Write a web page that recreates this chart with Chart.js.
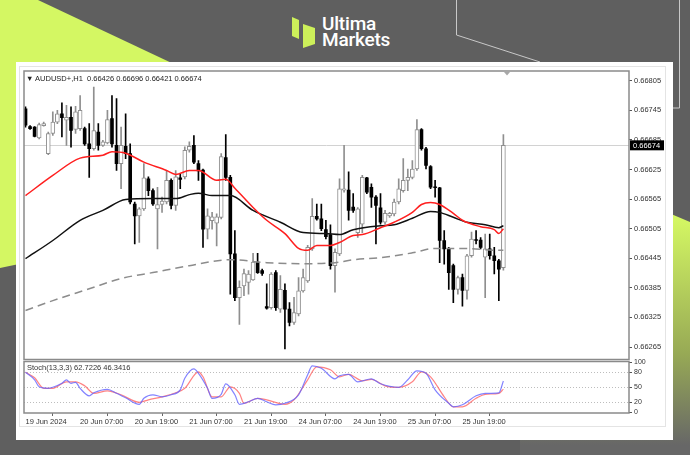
<!DOCTYPE html>
<html><head><meta charset="utf-8">
<script src="https://cdn.jsdelivr.net/npm/chart.js@4.4.1/dist/chart.umd.min.js"></script>
<style>
html,body{margin:0;padding:0;}
body{width:690px;height:455px;overflow:hidden;position:relative;background:#5f5f5f;font-family:"Liberation Sans",Arial,sans-serif;}
.abs{position:absolute;}
#panel{left:16px;top:62px;width:657px;height:378px;background:#fff;}
#frame{left:19px;top:66px;width:645px;height:359px;border:1px solid #e4e4e4;}
#c{left:0;top:0;}
#hdr{left:26px;top:74px;font-size:7.5px;color:#222;white-space:pre;line-height:9px;}
#sto{left:27px;top:363px;font-size:7.5px;color:#333;white-space:pre;line-height:9px;}
.logo{left:322px;color:#fff;font-family:Roboto,sans-serif;font-weight:500;font-size:19px;line-height:19px;letter-spacing:-0.2px;}
</style></head>
<body>
<svg class="abs" style="left:0;top:0" width="690" height="455">
 <defs><linearGradient id="g" x1="0" y1="218" x2="0" y2="445" gradientUnits="userSpaceOnUse">
 <stop offset="0" stop-color="#d4f763"/><stop offset="0.6" stop-color="#97a955"/><stop offset="1" stop-color="#676767"/></linearGradient></defs>
 <polygon points="0,0 38,0 420,180 0,268" fill="#d4f763"/>
 <polygon points="520,150 690,222 690,455 520,455" fill="url(#g)"/>
 <polyline points="456.5,0 456.5,35 540,62" fill="none" stroke="#c8c8c8" stroke-width="1"/>
 <polyline points="679.5,0 679.5,108 673,108" fill="none" stroke="#c8c8c8" stroke-width="1"/>
 <polygon points="292,17 299,20 299,39 292,36" fill="#cdf05a"/>
 <polygon points="303,24 315,28 315,44 303,48" fill="#cdf05a"/>
</svg>
<div id="panel" class="abs"></div>
<div id="frame" class="abs"></div>
<div class="abs logo" style="top:14px">Ultima</div>
<div class="abs logo" style="top:30px">Markets</div>
<canvas id="c" class="abs" width="690" height="455"></canvas>
<div id="hdr" class="abs"></div>
<div id="sto" class="abs">Stoch(13,3,3) 62.7226 46.3416</div>
<script>
const symbol = 'AUDUSD+,H1';
const opens = [0.66748,0.66712,0.66711,0.66689,0.66714,0.66657,0.66698,0.66721,0.66738,0.66725,
0.66731,0.66706,0.66708,0.66708,0.66677,0.66667,0.66701,0.66674,0.66679,0.66728,
0.66674,0.66637,0.66672,0.66657,0.66555,0.66531,0.66545,0.66606,0.66582,0.66545,
0.66554,0.66559,0.66603,0.66552,0.66608,0.66610,0.66664,0.66674,0.66637,0.66624,
0.66504,0.66521,0.66516,0.66528,0.66649,0.66609,0.66454,0.66365,0.66389,0.66396,
0.66401,0.66437,0.66420,0.66347,0.66345,0.66416,0.66342,0.66380,0.66342,0.66315,
0.66332,0.66379,0.66399,0.66464,0.66530,0.66525,0.66503,0.66493,0.66430,0.66454,
0.66583,0.66583,0.66549,0.66497,0.66514,0.66608,0.66589,0.66569,0.66547,0.66518,
0.66531,0.66535,0.66559,0.66582,0.66603,0.66609,0.66626,0.66706,0.66667,0.66631,
0.66590,0.66588,0.66481,0.66464,0.66430,0.66382,0.66406,0.66380,0.66450,0.66483,
0.66482,0.66447,0.66464,0.66450,0.66440,0.66426];
const highs = [0.66752,0.66714,0.66712,0.66719,0.66721,0.66701,0.66742,0.66745,0.66760,0.66755,
0.66752,0.66753,0.66775,0.66711,0.66718,0.66792,0.66718,0.66684,0.66745,0.66775,
0.66769,0.66711,0.66738,0.66677,0.66559,0.66548,0.66637,0.66610,0.66586,0.66589,
0.66569,0.66623,0.66606,0.66623,0.66616,0.66671,0.66681,0.66694,0.66643,0.66626,
0.66545,0.66538,0.66535,0.66657,0.66696,0.66613,0.66501,0.66399,0.66423,0.66420,
0.66455,0.66455,0.66423,0.66393,0.66416,0.66420,0.66410,0.66393,0.66355,0.66366,
0.66406,0.66423,0.66471,0.66566,0.66555,0.66555,0.66522,0.66513,0.66464,0.66606,
0.66674,0.66620,0.66576,0.66548,0.66613,0.66609,0.66596,0.66572,0.66576,0.66542,
0.66538,0.66565,0.66606,0.66647,0.66626,0.66643,0.66726,0.66708,0.66670,0.66633,
0.66603,0.66589,0.66501,0.66467,0.66433,0.66409,0.66413,0.66453,0.66498,0.66501,
0.66487,0.66494,0.66494,0.66467,0.66443,0.66696];
const lows = [0.66711,0.66706,0.66691,0.66687,0.66713,0.66655,0.66694,0.66718,0.66691,0.66674,
0.66670,0.66698,0.66704,0.66674,0.66609,0.66664,0.66664,0.66672,0.66677,0.66670,
0.66623,0.66586,0.66647,0.66555,0.66474,0.66477,0.66542,0.66572,0.66552,0.66464,
0.66538,0.66555,0.66545,0.66542,0.66586,0.66606,0.66660,0.66637,0.66603,0.66467,
0.66484,0.66504,0.66470,0.66525,0.66603,0.66372,0.66359,0.66311,0.66369,0.66372,
0.66400,0.66414,0.66410,0.66342,0.66342,0.66339,0.66335,0.66261,0.66308,0.66311,
0.66328,0.66376,0.66396,0.66461,0.66522,0.66501,0.66484,0.66423,0.66376,0.66450,
0.66579,0.66522,0.66538,0.66487,0.66497,0.66576,0.66548,0.66474,0.66514,0.66514,
0.66528,0.66531,0.66555,0.66579,0.66582,0.66606,0.66623,0.66664,0.66626,0.66586,
0.66569,0.66436,0.66433,0.66382,0.66355,0.66372,0.66348,0.66362,0.66447,0.66474,
0.66464,0.66365,0.66443,0.66413,0.66359,0.66421];
const closes = [0.66715,0.66708,0.66692,0.66716,0.66718,0.66698,0.66721,0.66738,0.66730,0.66731,
0.66704,0.66742,0.66745,0.66677,0.66667,0.66704,0.66674,0.66681,0.66726,0.66677,
0.66637,0.66674,0.66657,0.66559,0.66531,0.66545,0.66608,0.66582,0.66555,0.66554,
0.66561,0.66603,0.66552,0.66610,0.66605,0.66664,0.66672,0.66640,0.66622,0.66504,
0.66531,0.66529,0.66529,0.66651,0.66609,0.66454,0.66365,0.66386,0.66414,0.66413,
0.66437,0.66416,0.66414,0.66344,0.66413,0.66345,0.66382,0.66342,0.66315,0.66335,
0.66379,0.66406,0.66467,0.66530,0.66525,0.66505,0.66489,0.66430,0.66457,0.66586,
0.66586,0.66542,0.66542,0.66545,0.66609,0.66579,0.66569,0.66552,0.66518,0.66536,
0.66536,0.66559,0.66586,0.66603,0.66609,0.66626,0.66706,0.66667,0.66633,0.66589,
0.66588,0.66481,0.66464,0.66416,0.66382,0.66406,0.66380,0.66450,0.66484,0.66481,
0.66467,0.66464,0.66450,0.66440,0.66423,0.66674];

const timeTickIdx = [0,12,24,36,48,60,72,84,96];
const timeTickLabels = ['19 Jun 2024','20 Jun 07:00','20 Jun 19:00','21 Jun 07:00','21 Jun 19:00','24 Jun 07:00','24 Jun 19:00','25 Jun 07:00','25 Jun 19:00'];
const priceTicks = [0.66805,0.66745,0.66685,0.66625,0.66565,0.66505,0.66445,0.66385,0.66325,0.66265];
const stochTicks = [0,20,50,80,100];
const stochLevels = [20,50,80];

const maRedIdx = [0,6,12,17,19,22,26,31,33,36,38,42,44,46,50,53,57,60,62,64,67,69,72,74,78,81,85,87,89,91,94,96,100,103,104,105];
const maRedVal = [0.66572,0.66613,0.66648,0.66654,0.66661,0.66658,0.66640,0.66623,0.66615,0.66623,0.66623,0.66603,0.66605,0.66587,0.66548,0.66522,0.66495,0.66465,0.66461,0.66471,0.66471,0.66477,0.66491,0.66493,0.66507,0.66518,0.66538,0.66554,0.66558,0.66554,0.66536,0.66522,0.66509,0.66503,0.66495,0.66505];
const maBlackIdx = [0,6,12,17,22,28,33,36,38,41,45,50,56,61,66,69,72,78,81,85,89,91,94,97,101,104,105];
const maBlackVal = [0.66444,0.66481,0.66522,0.66542,0.66564,0.66566,0.66566,0.66574,0.66577,0.66572,0.66572,0.66542,0.66518,0.66497,0.66495,0.66493,0.66503,0.66511,0.66513,0.66526,0.66540,0.66538,0.66528,0.66518,0.66513,0.66507,0.66511];
const maGrayIdx = [0,6,14,21,28,36,45,53,62,68,72,78,85,90,96,104,105];
const maGrayVal = [0.66339,0.66359,0.66383,0.66404,0.66416,0.66430,0.66442,0.66436,0.66434,0.66436,0.66442,0.66446,0.66456,0.66465,0.66465,0.66461,0.66461];

const stochKIdx = [0,2,3,5,6,8,9,10,11,12,14,15,18,20,22,25,26,28,30,32,34,35,37,38,40,41,43,44,46,47,49,51,53,55,57,60,62,63,65,68,69,71,73,76,78,82,84,86,88,90,93,94,96,99,101,104,105];
const stochKVal = [80,65,51,48,50,58,65,58,60,48,33,39,46,38,29,16,28,35,31,35,45,68,87,78,48,28,36,57,35,16,21,28,21,15,18,35,75,93,88,67,73,76,61,67,57,50,65,83,78,45,18,11,15,33,38,39,62.7226];
const stochDIdx = [0,2,4,6,9,11,13,15,18,21,25,27,30,33,35,38,39,41,43,45,47,48,51,53,57,59,62,64,67,69,71,74,76,79,82,85,87,89,92,94,96,99,101,104,105];
const stochDVal = [80,69,48,48,61,61,53,38,43,35,20,25,31,39,48,81,71,31,31,51,38,18,28,25,16,25,65,91,85,71,76,63,66,53,50,61,81,71,31,11,11,28,36,38,46.3416];

const last = closes.length - 1;
document.getElementById('hdr').textContent = '\u25BC ' + symbol + '  ' + opens[last].toFixed(5) + ' ' + highs[last].toFixed(5) + ' ' + lows[last].toFixed(5) + ' ' + closes[last].toFixed(5);

const idx = opens.map((_, i) => i);
const isUp = i => closes[i] >= opens[i];
const wickData = idx.map(i => ({x: i, y: [lows[i], highs[i]]}));
const wickColors = idx.map(i => isUp(i) ? '#8f8f8f' : '#000000');
const upBody = idx.filter(isUp).map(i => ({x: i, y: [opens[i], closes[i]]}));
const dnBody = idx.filter(i => !isUp(i)).map(i => ({x: i, y: [opens[i], closes[i]]}));
const pts = (ix, vals) => ix.map((v, k) => ({x: v, y: vals[k]}));

const FONT = {family: '"Liberation Sans", Arial, sans-serif', size: 7.5};

const deco = {
  id: 'deco',
  beforeDatasetsDraw(chart) {
    const {ctx, chartArea: {left, right}, scales: {y}} = chart;
    const py = Math.round(y.getPixelForValue(closes[last])) + 0.5;
    ctx.save();
    ctx.strokeStyle = '#d2d2d2'; ctx.lineWidth = 1;
    ctx.beginPath(); ctx.moveTo(left, py); ctx.lineTo(right, py); ctx.stroke();
    ctx.restore();
  },
  afterDraw(chart) {
    const {ctx, chartArea: {left, right}, scales: {x, y, y2}} = chart;
    ctx.save();
    ctx.strokeStyle = '#8a8a8a'; ctx.lineWidth = 1.5;
    ctx.strokeRect(left, y.top, right - left, y.bottom - y.top);
    ctx.strokeRect(left, y2.top + 2, right - left, y2.bottom - y2.top - 2);
    const py = y.getPixelForValue(closes[last]);
    ctx.fillStyle = '#000'; ctx.fillRect(right + 1, py - 5, 34, 10);
    ctx.fillStyle = '#fff'; ctx.font = '7.5px "Liberation Sans", Arial, sans-serif';
    ctx.textBaseline = 'middle'; ctx.textAlign = 'left';
    ctx.fillText(closes[last].toFixed(5), right + 4, py + 0.5);
    const sx = x.getPixelForValue(last + 0.8);
    ctx.fillStyle = '#a8a8a8';
    ctx.beginPath(); ctx.moveTo(sx - 3, y.top + 1); ctx.lineTo(sx + 3, y.top + 1); ctx.lineTo(sx, y.top + 4.5); ctx.closePath(); ctx.fill();
    ctx.restore();
  }
};

new Chart(document.getElementById('c'), {
  type: 'bar',
  data: {
    datasets: [
      {type: 'line', data: pts(maRedIdx, maRedVal), borderColor: '#ff1f1f', borderWidth: 1.5, pointRadius: 0, cubicInterpolationMode: 'monotone', yAxisID: 'y', order: 0},
      {type: 'line', data: pts(maBlackIdx, maBlackVal), borderColor: '#111111', borderWidth: 1.5, pointRadius: 0, cubicInterpolationMode: 'monotone', yAxisID: 'y', order: 0},
      {type: 'line', data: pts(maGrayIdx, maGrayVal), borderColor: '#8c8c8c', borderWidth: 1.5, borderDash: [8, 5], pointRadius: 0, cubicInterpolationMode: 'monotone', yAxisID: 'y', order: 0},
      {type: 'line', data: pts(stochKIdx, stochKVal), borderColor: 'rgba(100,100,255,0.8)', borderWidth: 1.2, pointRadius: 0, cubicInterpolationMode: 'monotone', yAxisID: 'y2', order: 0},
      {type: 'line', data: pts(stochDIdx, stochDVal), borderColor: 'rgba(255,100,100,0.8)', borderWidth: 1.2, pointRadius: 0, cubicInterpolationMode: 'monotone', yAxisID: 'y2', order: 0},
      {data: upBody, backgroundColor: '#ffffff', borderColor: '#8f8f8f', borderWidth: 1, borderSkipped: false, barThickness: 4, grouped: false, yAxisID: 'y', order: 1},
      {data: dnBody, backgroundColor: '#000000', borderWidth: 0, borderSkipped: false, barThickness: 3, grouped: false, yAxisID: 'y', order: 1},
      {data: wickData, backgroundColor: wickColors, borderWidth: 0, barThickness: 1, grouped: false, yAxisID: 'y', order: 2}
    ]
  },
  options: {
    responsive: false, animation: false, events: [],
    layout: {padding: {left: 24, top: 71, right: 25, bottom: 28}},
    plugins: {legend: {display: false}, tooltip: {enabled: false}},
    scales: {
      x: {
        type: 'linear', min: -0.33, max: 132.6, offset: false,
        afterBuildTicks: s => { s.ticks = timeTickIdx.map(v => ({value: v})); },
        afterFit: s => { s.height = 14; },
        ticks: {autoSkip: false, maxRotation: 0, align: 'start', padding: 1, color: '#333', font: FONT, callback: (v, i) => timeTickLabels[i]},
        grid: {drawOnChartArea: false, drawTicks: true, tickLength: 3, color: '#666'},
        border: {display: false}
      },
      y: {
        type: 'linear', position: 'right', stack: 'pane', stackWeight: 288.5,
        min: 0.662397, max: 0.668247,
        afterBuildTicks: s => { s.ticks = priceTicks.map(v => ({value: v})); },
        afterFit: s => { s.width = 36; },
        ticks: {autoSkip: false, padding: 2, color: '#333', font: FONT, callback: v => v.toFixed(5)},
        grid: {drawOnChartArea: false, tickLength: 3, color: '#555'},
        border: {display: false}
      },
      y2: {
        type: 'linear', position: 'right', stack: 'pane', stackWeight: 53.5,
        min: -1.4, max: 105.6,
        afterBuildTicks: s => { s.ticks = stochTicks.map(v => ({value: v})); },
        afterFit: s => { s.width = 36; },
        ticks: {autoSkip: false, padding: 2, color: '#333', font: {family: FONT.family, size: 7}, callback: v => String(v)},
        grid: {drawOnChartArea: true, tickLength: 3, tickColor: '#555',
               color: c => (c.tick && stochLevels.includes(c.tick.value)) ? '#bdbdbd' : 'rgba(0,0,0,0)'},
        border: {display: false, dash: [1, 2]}
      }
    }
  },
  plugins: [deco]
});
</script>
</body></html>
